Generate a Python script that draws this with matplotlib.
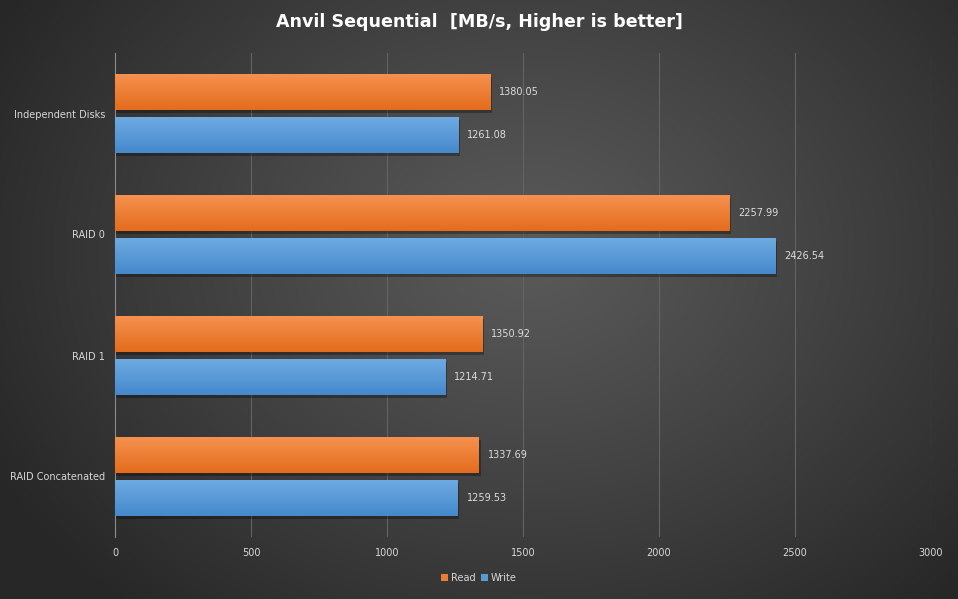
import numpy as np
import matplotlib
matplotlib.use("Agg")
import matplotlib.pyplot as plt
from matplotlib.patches import Patch

categories = ["Independent Disks", "RAID 0", "RAID 1", "RAID Concatenated"]
read_vals = [1380.05, 2257.99, 1350.92, 1337.69]
write_vals = [1261.08, 2426.54, 1214.71, 1259.53]
xticks = [0, 500, 1000, 1500, 2000, 2500, 3000]
title = "Anvil Sequential  [MB/s, Higher is better]"

W, H = 958, 599
fig = plt.figure(figsize=(W / 100, H / 100), dpi=100)

# radial gradient background
bg = fig.add_axes([0, 0, 1, 1], zorder=-10)
yy, xx = np.mgrid[0:H, 0:W]
cx, cy = W * 0.55, H * 0.42
r = np.sqrt(((xx - cx) / (W * 0.62)) ** 2 + ((yy - cy) / (H * 0.78)) ** 2)
r = np.clip(r, 0, 1)
inner = np.array([0x5a, 0x5a, 0x5a]) / 255
outer = np.array([0x28, 0x28, 0x28]) / 255
img = inner[None, None, :] * (1 - r[..., None] ** 1.1) + outer[None, None, :] * (r[..., None] ** 1.1)
bg.imshow(img, aspect="auto", extent=[0, 1, 0, 1])
bg.axis("off")

ax = fig.add_axes([115 / W, 1 - 537 / H, 816 / W, 484 / H])
ax.set_facecolor("none")
n = len(categories)

bh = 36 / 121
off = 21.5 / 121
ypos = np.arange(n)

def grad_bar(y, val, top, bot):
    ax.add_patch(plt.Rectangle((0, y - bh / 2 + 0.025), val + 7, bh, color="black", alpha=0.3, zorder=2, lw=0))
    g = np.linspace(0, 1, 50)[:, None, None]
    top = np.array(matplotlib.colors.to_rgb(top))
    bot = np.array(matplotlib.colors.to_rgb(bot))
    im = top[None, None, :] * (1 - g) + bot[None, None, :] * g
    ax.imshow(im, aspect="auto", extent=[0, val, y + bh / 2, y - bh / 2], zorder=3, interpolation="bilinear")

for i in range(n):
    grad_bar(ypos[i] - off, read_vals[i], "#f5914f", "#e46c1c")
    grad_bar(ypos[i] + off, write_vals[i], "#6eaae2", "#4589cc")
    ax.text(read_vals[i] + 33, ypos[i] - off, f"{read_vals[i]:.2f}", va="center", ha="left",
            color="#dcdcdc", fontsize=7, zorder=5)
    ax.text(write_vals[i] + 33, ypos[i] + off, f"{write_vals[i]:.2f}", va="center", ha="left",
            color="#dcdcdc", fontsize=7, zorder=5)

ax.set_xlim(0, 3000)
ax.set_ylim(n - 0.5, -0.5)
ax.set_xticks(xticks)
ax.set_xticklabels([str(t) for t in xticks])
ax.set_yticks(ypos)
ax.set_yticklabels(categories)
ax.tick_params(axis="x", colors="#d8d8d8", labelsize=7, length=0, pad=8)
ax.tick_params(axis="y", colors="#d8d8d8", labelsize=7, length=0, pad=7)
ax.grid(axis="x", color="#636363", lw=0.8, zorder=0)
ax.set_axisbelow(True)
for s in ["top", "right", "bottom"]:
    ax.spines[s].set_visible(False)
ax.spines["left"].set_color("#8a8a8a")
ax.spines["left"].set_linewidth(0.8)

fig.text(0.5, 1 - 22 / H, title, ha="center", va="center", color="white",
         fontsize=12.6, fontweight="bold")

handles = [Patch(facecolor="#ed7d31", label="Read"), Patch(facecolor="#5b9bd5", label="Write")]
fig.legend(handles=handles, loc="center", bbox_to_anchor=(0.5, 1 - 578 / H), ncol=2, frameon=False,
           fontsize=7, labelcolor="#d8d8d8", handlelength=0.7, handleheight=0.7,
           handletextpad=0.3, columnspacing=0.6)

fig.savefig("out.png", dpi=100)
